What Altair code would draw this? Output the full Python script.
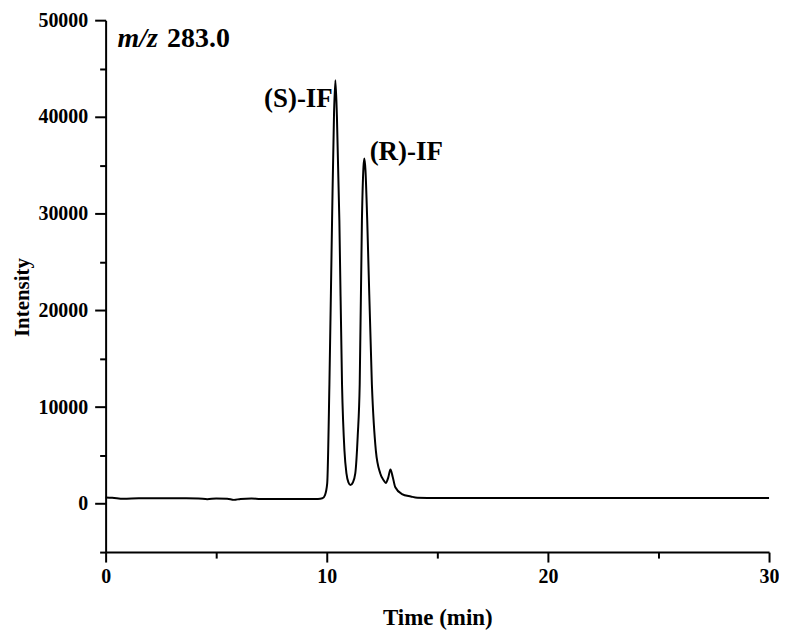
import altair as alt
import pandas as pd

# Chromatogram (time in min, intensity)
time = [0.0, 0.3, 0.8, 1.5, 2.5, 3.5, 4.2, 4.6, 5.0, 5.5, 5.8, 6.1, 6.6, 7.0, 7.5, 8.0, 9.0, 9.6,
        9.8, 9.92, 10.02, 10.12, 10.24, 10.33, 10.39, 10.46, 10.57, 10.69, 10.8, 10.89, 10.98, 11.07,
        11.18, 11.29, 11.4, 11.49, 11.59, 11.66, 11.70, 11.75, 11.83, 12.04, 12.22, 12.42, 12.58,
        12.67, 12.78, 12.88, 12.98, 13.1, 13.4, 13.8, 14.1, 15.0, 20.0, 25.0, 30.0]
intensity = [650, 620, 520, 560, 570, 560, 540, 470, 540, 520, 400, 500, 550, 480, 500, 500, 490, 500,
             560, 900, 2100, 12350, 29300, 40500, 43800, 40000, 29300, 12350, 5500, 3130, 2200, 1940,
             2200, 3130, 7000, 12350, 29300, 34800, 35700, 34500, 29300, 12350, 5500, 3130, 2400,
             2150, 2700, 3550, 2800, 1700, 1000, 750, 620, 600, 600, 600, 600]

x_ticks = [0, 5, 10, 15, 20, 25, 30]
y_ticks = [-5000, 0, 5000, 10000, 15000, 20000, 25000, 30000, 35000, 40000, 45000, 50000]

peak_labels = ["(S)-IF", "(R)-IF"]
peak_label_x = [10.27, 11.94]
peak_label_y = [41800, 36400]

mz_italic = ["m/z"]
mz_value = ["283.0"]
mz_x = [0.54, 2.78]
mz_y = [48000]

df = pd.DataFrame({"t": time, "i": intensity})
FONT = "Liberation Serif"

xs = alt.Scale(domain=[0, 30], nice=False, zero=False)
ys = alt.Scale(domain=[-5000, 50000], nice=False, zero=False)

common = dict(tickWidth=2, domainWidth=2, labelFontSize=20, labelFontWeight="bold", labelFont=FONT,
              titleFontWeight="bold", titleFont=FONT, grid=False,
              domainColor="black", tickColor="black", labelColor="black", titleColor="black",
              labelFlush=False)

line = alt.Chart(df).mark_line(color="black", strokeWidth=2, interpolate="monotone").encode(
    x=alt.X("t:Q", scale=xs, title="Time (min)",
            axis=alt.Axis(values=x_ticks,
                          tickSize={"condition": {"test": "datum.value % 10 != 0", "value": 6}, "value": 10},
                          labelExpr="datum.value % 10 == 0 ? datum.label : ''",
                          labelPadding=5, titlePadding=20, titleFontSize=23, **common)),
    y=alt.Y("i:Q", scale=ys, title="Intensity",
            axis=alt.Axis(values=y_ticks,
                          tickSize={"condition": {"test": "datum.value % 10000 != 0", "value": 6}, "value": 11},
                          labelExpr="datum.value % 10000 == 0 ? datum.label : ''",
                          format="d", labelPadding=7, titleFontSize=21,
                          titleX=-77, titleY=278, titleBaseline="alphabetic", **common)),
)

lab_df = pd.DataFrame({"x": peak_label_x, "y": peak_label_y, "txt": peak_labels})
lab_s = alt.Chart(lab_df.iloc[[0]]).mark_text(align="right", baseline="middle", fontSize=27,
                                              fontWeight="bold", font=FONT, color="black").encode(
    x=alt.X("x:Q", scale=xs), y=alt.Y("y:Q", scale=ys), text="txt:N")
lab_r = alt.Chart(lab_df.iloc[[1]]).mark_text(align="left", baseline="middle", fontSize=27,
                                              fontWeight="bold", font=FONT, color="black").encode(
    x=alt.X("x:Q", scale=xs), y=alt.Y("y:Q", scale=ys), text="txt:N")

mz_a = alt.Chart(pd.DataFrame({"x": [mz_x[0]], "y": mz_y, "a": mz_italic})).mark_text(
    align="left", baseline="middle", fontSize=28, fontWeight="bold", fontStyle="italic",
    font=FONT, color="black").encode(
    x=alt.X("x:Q", scale=xs), y=alt.Y("y:Q", scale=ys), text="a:N")
mz_b = alt.Chart(pd.DataFrame({"x": [mz_x[1]], "y": mz_y, "b": mz_value})).mark_text(
    align="left", baseline="middle", fontSize=28, fontWeight="bold", font=FONT, color="black").encode(
    x=alt.X("x:Q", scale=xs), y=alt.Y("y:Q", scale=ys), text="b:N")

chart = alt.layer(line, lab_s, lab_r, mz_a, mz_b).properties(
    width=666, height=534,
    background="white",
    autosize=alt.AutoSizeParams(type="none"),
    padding={"left": 98, "top": 11, "right": 10, "bottom": 80},
).configure_view(stroke=None)

chart.save("out.html", embed_options={"renderer": "svg", "actions": False})
